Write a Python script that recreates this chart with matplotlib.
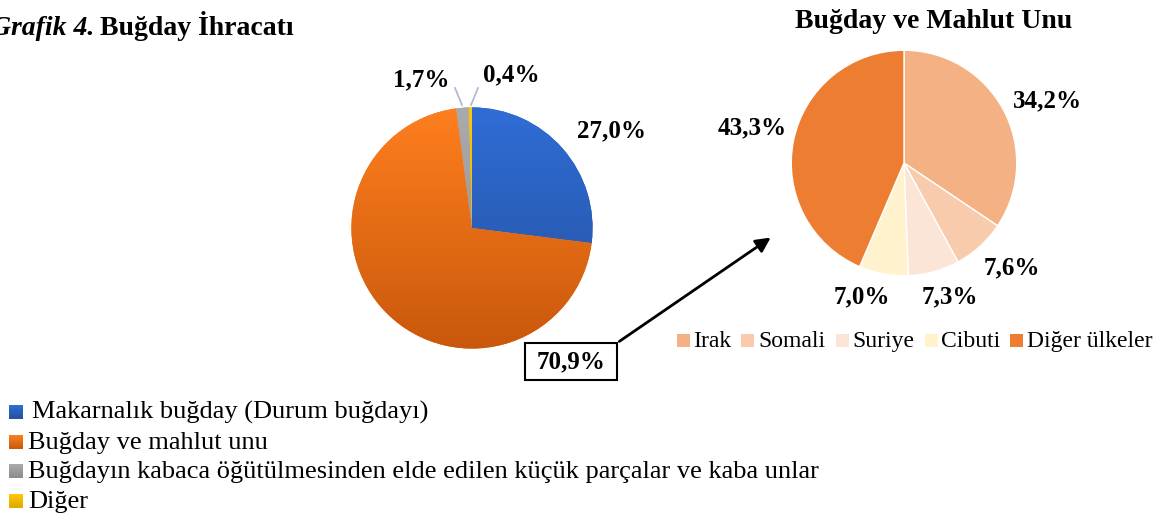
import numpy as np
import matplotlib
matplotlib.use("Agg")
import matplotlib.pyplot as plt
from matplotlib.patches import Rectangle, FancyArrowPatch
from matplotlib.colors import LinearSegmentedColormap

plt.rcParams['font.family'] = ['Liberation Serif', 'DejaVu Serif']

W, H = 1165, 517

# Data
main_categories = ["Makarnalık buğday (Durum buğdayı)", "Buğday ve mahlut unu",
                   "Buğdayın kabaca öğütülmesinden elde edilen küçük parçalar ve kaba unlar",
                   "Diğer"]
main_values = [27.0, 70.9, 1.7, 0.4]
main_labels = ["27,0%", "70,9%", "1,7%", "0,4%"]

sub_categories = ["Irak", "Somali", "Suriye", "Cibuti", "Diğer ülkeler"]
sub_values = [34.2, 7.6, 7.3, 7.0, 43.3]
sub_labels = ["34,2%", "7,6%", "7,3%", "7,0%", "43,3%"]

main_top = ["#2F6DD6", "#FF7F1E", "#ABABAB", "#FFC800"]
main_bot = ["#24509E", "#C9580C", "#8C8C8C", "#E0A800"]
main_flat = ["#2A5FBE", "#EE6E15", "#A0A0A0", "#FFC000"]
sub_colors = ["#F4B183", "#F8CBAD", "#FBE5D6", "#FFF2CC", "#ED7D31"]

fig = plt.figure(figsize=(W / 100, H / 100), dpi=100)


def fx(x):
    return x / W


def fy(y):
    return 1 - y / H


def pie_axes(cx, cy, r):
    return fig.add_axes([fx(cx - r), fy(cy + r), 2 * r / W, 2 * r / H])


def grad_square(x, y, s, ct, cb):
    cmap = LinearSegmentedColormap.from_list("g", [cb, ct])
    a = fig.add_axes([fx(x), fy(y + s), s / W, s / H])
    a.imshow(np.linspace(0, 1, 64).reshape(-1, 1), origin="lower", cmap=cmap,
             aspect="auto", extent=[0, 1, 0, 1])
    a.axis("off")


# Left pie
ax1 = pie_axes(472, 228, 123)
wedges1, _ = ax1.pie(main_values, colors=main_flat, startangle=90, counterclock=False,
                     radius=1, wedgeprops=dict(linewidth=0))
for w, ct, cb in zip(wedges1, main_top, main_bot):
    cmap = LinearSegmentedColormap.from_list("g", [cb, ct])
    grad = np.linspace(0, 1, 256).reshape(-1, 1)
    im = ax1.imshow(grad, extent=[-1, 1, -1, 1], origin="lower", cmap=cmap,
                    aspect="auto", zorder=w.get_zorder() + 0.1)
    im.set_clip_path(w)
ax1.set_xlim(-1.02, 1.02)
ax1.set_ylim(-1.02, 1.02)
ax1.set_aspect("equal")
ax1.axis("off")

# Right pie
ax2 = pie_axes(904, 163, 115)
ax2.pie(sub_values, colors=sub_colors, startangle=90, counterclock=False, radius=1,
        wedgeprops=dict(linewidth=1, edgecolor="white"))
ax2.set_xlim(-1.02, 1.02)
ax2.set_ylim(-1.02, 1.02)
ax2.set_aspect("equal")
ax2.axis("off")

# Titles
fig.text(fx(94), fy(35), "Grafik 4.", fontsize=20, fontweight="bold", fontstyle="italic",
         ha="right", va="baseline")
fig.text(fx(100), fy(35), "Buğday İhracatı", fontsize=20, fontweight="bold",
         ha="left", va="baseline")
fig.text(fx(934), fy(28), "Buğday ve Mahlut Unu", fontsize=20, fontweight="bold",
         ha="center", va="baseline")

# Left labels
lab_kw = dict(fontsize=18, fontweight="bold", ha="center", va="center")
fig.text(fx(611), fy(131), main_labels[0], **lab_kw)
fig.text(fx(421), fy(80), main_labels[2], **lab_kw)
fig.text(fx(511), fy(75), main_labels[3], **lab_kw)
fig.text(fx(571), fy(362), main_labels[1], **lab_kw)
fig.add_artist(Rectangle((fx(525), fy(380)), (617 - 525) / W, (380 - 343) / H,
                         transform=fig.transFigure, fill=False, edgecolor="black",
                         linewidth=1.5))
# leader lines
fig.add_artist(plt.Line2D([fx(455), fx(462)], [fy(88), fy(105)], color="#A9B8CC", lw=1.2,
                          transform=fig.transFigure))
fig.add_artist(plt.Line2D([fx(478), fx(471)], [fy(88), fy(105)], color="#A9B8CC", lw=1.2,
                          transform=fig.transFigure))
# arrow
fig.add_artist(FancyArrowPatch((fx(617), fy(343)), (fx(773), fy(236)),
                               transform=fig.transFigure, arrowstyle="-|>",
                               mutation_scale=22, color="black", lw=2))

# Right labels
fig.text(fx(1048), fy(101), sub_labels[0], **lab_kw)
fig.text(fx(1012), fy(268), sub_labels[1], **lab_kw)
fig.text(fx(950), fy(297), sub_labels[2], **lab_kw)
fig.text(fx(862), fy(297), sub_labels[3], **lab_kw)
fig.text(fx(752), fy(128), sub_labels[4], **lab_kw)

# Right legend
sub_leg_sq = [677, 741, 836, 925, 1010]
sub_leg_tx = [693, 758, 852, 941, 1027]
for x, tx, c, t in zip(sub_leg_sq, sub_leg_tx, sub_colors, sub_categories):
    fig.add_artist(Rectangle((fx(x), fy(347)), 13 / W, 13 / H, transform=fig.transFigure,
                             facecolor=c, edgecolor="none"))
    fig.text(fx(tx), fy(347), t, fontsize=17, ha="left", va="baseline")

# Bottom-left legend
main_base_y = [419, 449, 478, 508]
text_x = [32, 28, 28, 28]
for y, ct, cb, tx, t in zip(main_base_y, main_top, main_bot, text_x, main_categories):
    grad_square(9, y - 14, 14, ct, cb)
    fig.text(fx(tx), fy(y), t, fontsize=19, ha="left", va="baseline")

fig.savefig("out.png", dpi=100)
